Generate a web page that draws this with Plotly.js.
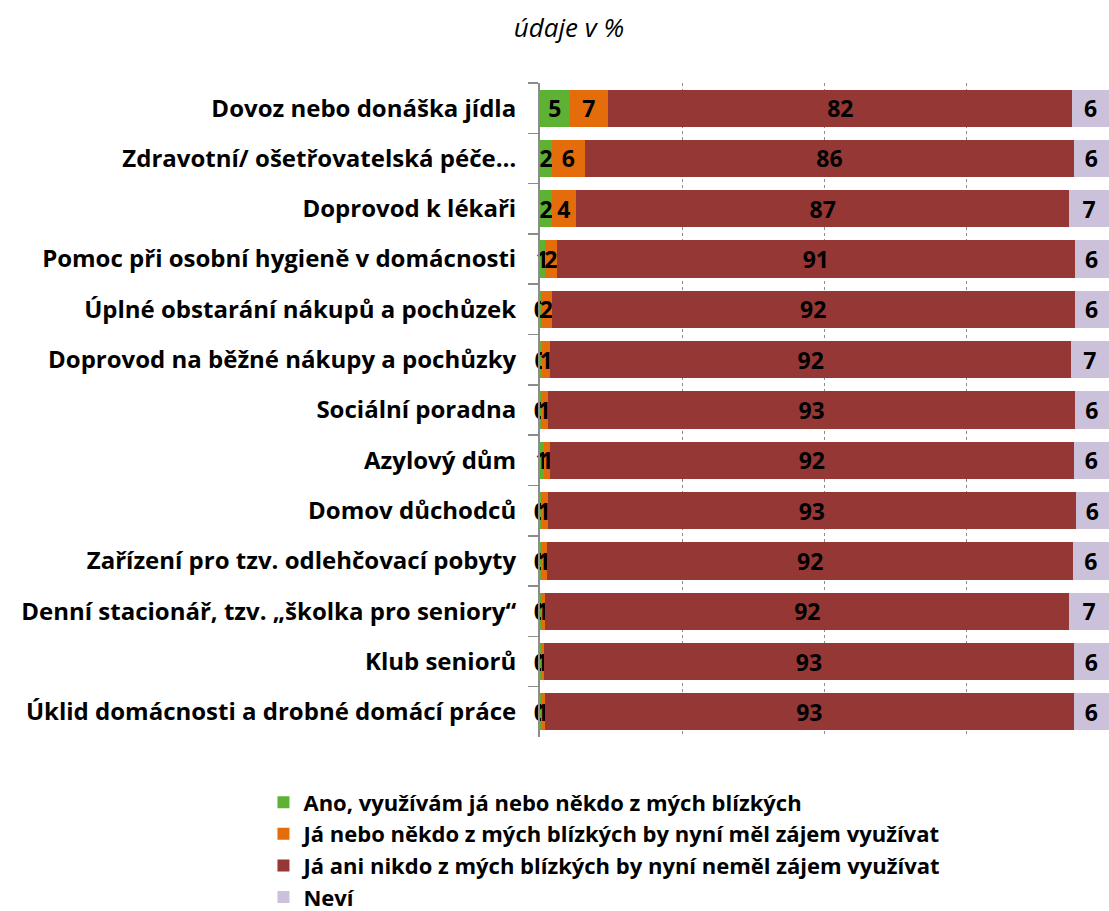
<!DOCTYPE html>
<html>
<head>
<meta charset="utf-8">
<script src="https://cdn.plot.ly/plotly-3.0.1.min.js"></script>
<style>
  body { margin: 0; background: #fff; }
  #chart { width: 1109px; height: 911px; }
</style>
</head>
<body>
<div id="chart"></div>
<script>
var categories = [
  'Dovoz nebo donáška jídla',
  'Zdravotní/ ošetřovatelská péče…',
  'Doprovod k lékaři',
  'Pomoc při osobní hygieně v domácnosti',
  'Úplné obstarání nákupů a pochůzek',
  'Doprovod na běžné nákupy a pochůzky',
  'Sociální poradna',
  'Azylový dům',
  'Domov důchodců',
  'Zařízení pro tzv. odlehčovací pobyty',
  'Denní stacionář, tzv. „školka pro seniory“',
  'Klub seniorů',
  'Úklid domácnosti a drobné domácí práce'
];
var ano    = [5.2, 2.1, 2.1, 0.8, 0.1, 0.4, 0.1, 0.7, 0.1, 0.1, 0.1, 0.1, 0.1];
var zajem  = [6.8, 5.8, 4.2, 2.2, 2.0, 1.4, 1.3, 1.0, 1.3, 1.2, 0.8, 0.6, 0.7];
var nezajem= [81.6, 86.0, 86.8, 91.0, 91.9, 91.6, 92.7, 92.2, 92.8, 92.4, 92.2, 93.2, 93.1];
var nevi   = [6.4, 6.1, 6.9, 6.0, 6.0, 6.6, 5.9, 6.1, 5.8, 6.3, 6.9, 6.1, 6.1];

var names = [
  'Ano, využívám já nebo někdo z mých blízkých',
  'Já nebo někdo z mých blízkých by nyní měl zájem využívat',
  'Já ani nikdo z mých blízkých by nyní neměl zájem využívat',
  'Neví'
];
var colors = ['#5db234', '#e46c0a', '#953735', '#ccc1da'];
var series = [ano, zajem, nezajem, nevi];

var FONT = '"Open Sans", Lato, sans-serif';

var data = series.map(function(vals, i) {
  return {
    type: 'bar',
    orientation: 'h',
    y: categories,
    x: vals,
    name: names[i],
    marker: { color: colors[i], line: { width: 0 } },
    texttemplate: '%{x:.0f}',
    textposition: 'inside',
    insidetextanchor: 'middle',
    textangle: 0,
    cliponaxis: false,
    textfont: { family: FONT, size: 23, color: '#000', weight: 'bold' },
    hoverinfo: 'skip'
  };
});

var layout = {
  width: 1109, height: 911,
  barmode: 'stack',
  bargap: 0.26,
  uniformtext: { mode: 'show', minsize: 23 },
  margin: { l: 540, r: 0, t: 83, b: 174, autoexpand: false },
  paper_bgcolor: '#fff',
  plot_bgcolor: '#fff',
  font: { family: FONT, color: '#000' },
  title: {
    text: 'údaje v %',
    font: { family: FONT, size: 26, style: 'italic', color: '#000' },
    xref: 'container', x: 0.513, xanchor: 'center',
    yref: 'container', y: 0.969, yanchor: 'middle'
  },
  xaxis: {
    range: [0, 100.05],
    tickvals: [25, 50, 75, 100],
    showticklabels: false,
    showgrid: true,
    gridcolor: '#8c8c8c',
    griddash: 'dot',
    gridwidth: 1,
    zeroline: false,
    showline: false,
    fixedrange: true
  },
  yaxis: {
    autorange: 'reversed',
    type: 'category',
    showline: true,
    linecolor: '#8c8c8c',
    linewidth: 2,
    ticks: 'outside',
    tickson: 'boundaries',
    ticklen: 10,
    tickwidth: 1.5,
    tickcolor: '#8c8c8c',
    ticklabelstandoff: 17,
    tickfont: { family: FONT, size: 24, color: '#000', weight: 'bold' },
    showgrid: false,
    zeroline: false,
    fixedrange: true
  },
  showlegend: true,
  legend: {
    orientation: 'v',
    traceorder: 'normal',
    x: -0.486, xanchor: 'left',
    y: -0.068, yanchor: 'top',
    font: { family: FONT, size: 22, color: '#000', weight: 'bold' },
    itemwidth: 30,
    tracegroupgap: 0
  }
};

Plotly.newPlot('chart', data, layout, { displayModeBar: false, staticPlot: true });
</script>
</body>
</html>
